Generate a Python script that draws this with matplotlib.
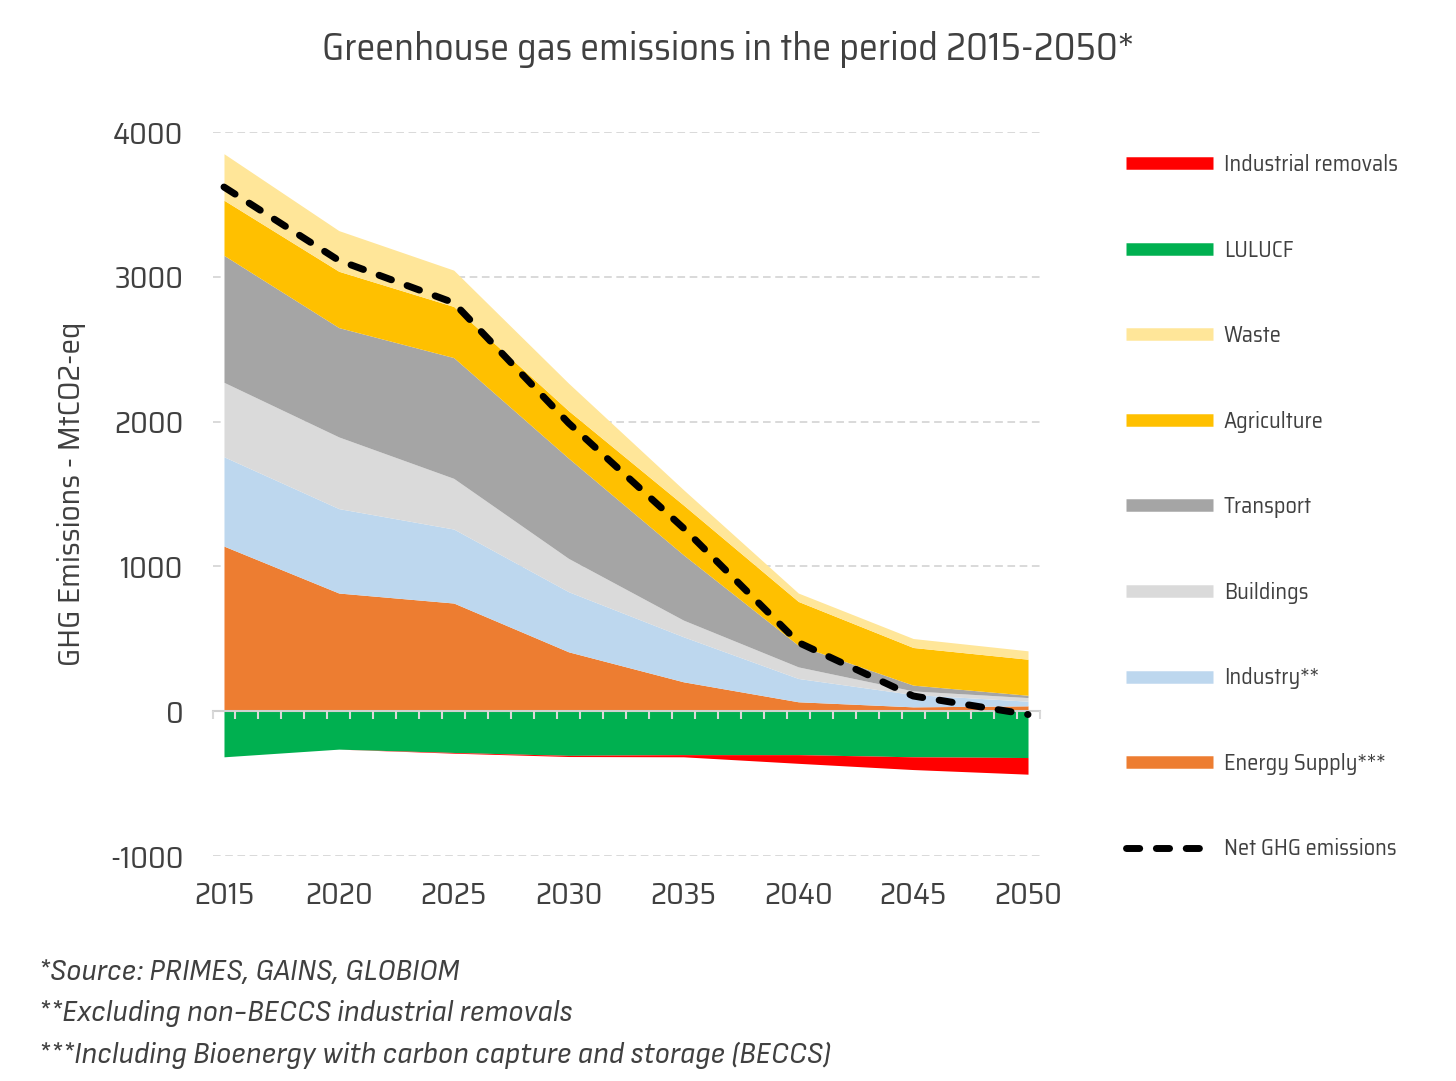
import matplotlib
matplotlib.use("Agg")
import matplotlib.pyplot as plt
import matplotlib.font_manager as fm
from matplotlib.lines import Line2D
import numpy as np

# ---------------- data ----------------
years = [2015, 2020, 2025, 2030, 2035, 2040, 2045, 2050]
energy_supply = [1140, 816, 747, 410, 203, 65, 30, 37]
industry = [617, 583, 511, 415, 311, 161, 85, 32]
buildings = [514, 495, 350, 230, 115, 80, 25, 25]
transport = [877, 755, 834, 692, 451, 149, 40, 16]
agriculture = [381, 389, 353, 328, 344, 303, 260, 249]
waste = [321, 281, 251, 190, 106, 58, 62, 58]
lulucf = [-315, -262, -285, -305, -300, -300, -315, -320]
industrial_removals = [0, 0, -5, -8, -15, -60, -88, -115]
net_ghg = [3620, 3113, 2821, 1990, 1265, 475, 105, -23]

year_labels = ["2015", "2020", "2025", "2030", "2035", "2040", "2045", "2050"]
y_ticks = [-1000, 0, 1000, 2000, 3000, 4000]

# ---------------- fonts ----------------
ttf = fm.fontManager.ttflist
names = {f.name for f in ttf}
font = "DejaVu Sans"
for c in ["Saira SemiCondensed", "Roboto Condensed", "DejaVu Sans"]:
    if c in names:
        font = c
        break
ital_font = "DejaVu Sans"
for c in ["Saira SemiCondensed", "Sofia Sans Semi Condensed", "Roboto Condensed",
          "DejaVu Sans"]:
    if any(f.name == c and f.style in ("italic", "oblique") for f in ttf):
        ital_font = c
        break
plt.rcParams["font.family"] = [font, "DejaVu Sans"]

TXT = "#404040"

fig = plt.figure(figsize=(14.56, 10.81), dpi=100)
ax = fig.add_axes([212.5 / 1456, 1 - 856 / 1081, (1039.5 - 212.5) / 1456, (856 - 132) / 1081])

x = np.array(years, dtype=float)
pos_series = [
    ("Energy Supply***", energy_supply, "#ED7D31"),
    ("Industry**", industry, "#BDD7EE"),
    ("Buildings", buildings, "#DADADA"),
    ("Transport", transport, "#A5A5A5"),
    ("Agriculture", agriculture, "#FFC000"),
    ("Waste", waste, "#FFE699"),
]
neg_series = [
    ("LULUCF", lulucf, "#00B050"),
    ("Industrial removals", industrial_removals, "#FF0000"),
]

for yt in y_ticks:
    if yt != 0:
        ax.axhline(yt, color="#D0D0D0", lw=1.1, ls=(0, (5, 3)), zorder=0)

base = np.zeros(len(x))
handles = {}
for name, vals, col in pos_series:
    top = base + np.array(vals, dtype=float)
    ax.fill_between(x, base, top, color=col, lw=0, zorder=1)
    handles[name] = Line2D([], [], color=col, lw=9, solid_capstyle="butt")
    base = top
base = np.zeros(len(x))
for name, vals, col in neg_series:
    bot = base + np.array(vals, dtype=float)
    ax.fill_between(x, bot, base, color=col, lw=0, zorder=1)
    handles[name] = Line2D([], [], color=col, lw=9, solid_capstyle="butt")
    base = bot

ax.plot(x, net_ghg, color="black", lw=5, dashes=(1.9, 2.4),
        dash_capstyle="round", zorder=4)
handles["Net GHG emissions"] = Line2D([], [], color="black", lw=5, dashes=(1.9, 2.4),
                                      dash_capstyle="round")

ax.set_xlim(2014.5, 2050.5)
ax.set_ylim(-1000, 4000)
ax.set_axisbelow(False)
for s in ["top", "right", "left"]:
    ax.spines[s].set_visible(False)
ax.spines["bottom"].set_position(("data", 0))
ax.spines["bottom"].set_color("#D0D0D0")
ax.spines["bottom"].set_linewidth(1.5)
ax.spines["bottom"].set_zorder(2.5)
ax.set_xticks(np.arange(2014.5, 2051, 1.0))
ax.tick_params(axis="x", direction="out", length=6, width=1.5, color="#D9D9D9",
               labelbottom=False)
ax.set_yticks(y_ticks)
ax.set_yticklabels([str(v) for v in y_ticks])
ax.tick_params(axis="y", length=0, pad=21, labelsize=22, labelcolor=TXT)

sec = ax.secondary_xaxis(-0.0)
sec.set_xticks(years)
sec.set_xticklabels(year_labels)
sec.tick_params(length=0, pad=18, labelsize=22, labelcolor=TXT)
sec.spines["bottom"].set_visible(False)

fig.text(72 / 1456, 1 - 494 / 1081, "GHG Emissions - MtCO2-eq", rotation=90,
         ha="center", va="center", fontsize=22.5, color=TXT)
fig.text(0.5, 1 - 50 / 1081, "Greenhouse gas emissions in the period 2015-2050*",
         ha="center", va="center", fontsize=27.3, color=TXT)

order = ["Industrial removals", "LULUCF", "Waste", "Agriculture", "Transport",
         "Buildings", "Industry**", "Energy Supply***", "Net GHG emissions"]
leg = fig.legend([handles[k] for k in order], order, loc="upper left",
                 bbox_to_anchor=(1126 / 1456, 1 - 154 / 1081), frameon=False,
                 fontsize=16, labelcolor=TXT, handlelength=3.9, handletextpad=0.5,
                 labelspacing=2.86, borderaxespad=0, borderpad=0)

notes = ["*Source: PRIMES, GAINS, GLOBIOM",
         "**Excluding non-BECCS industrial removals",
         "***Including Bioenergy with carbon capture and storage (BECCS)"]
for i, t in enumerate(notes):
    fig.text(38 / 1456, 1 - (972 + 41.5 * i) / 1081, t, ha="left", va="center",
             fontsize=22, style="italic", color=TXT, family=[ital_font, "DejaVu Sans"])

fig.savefig("out.png", dpi=100)
